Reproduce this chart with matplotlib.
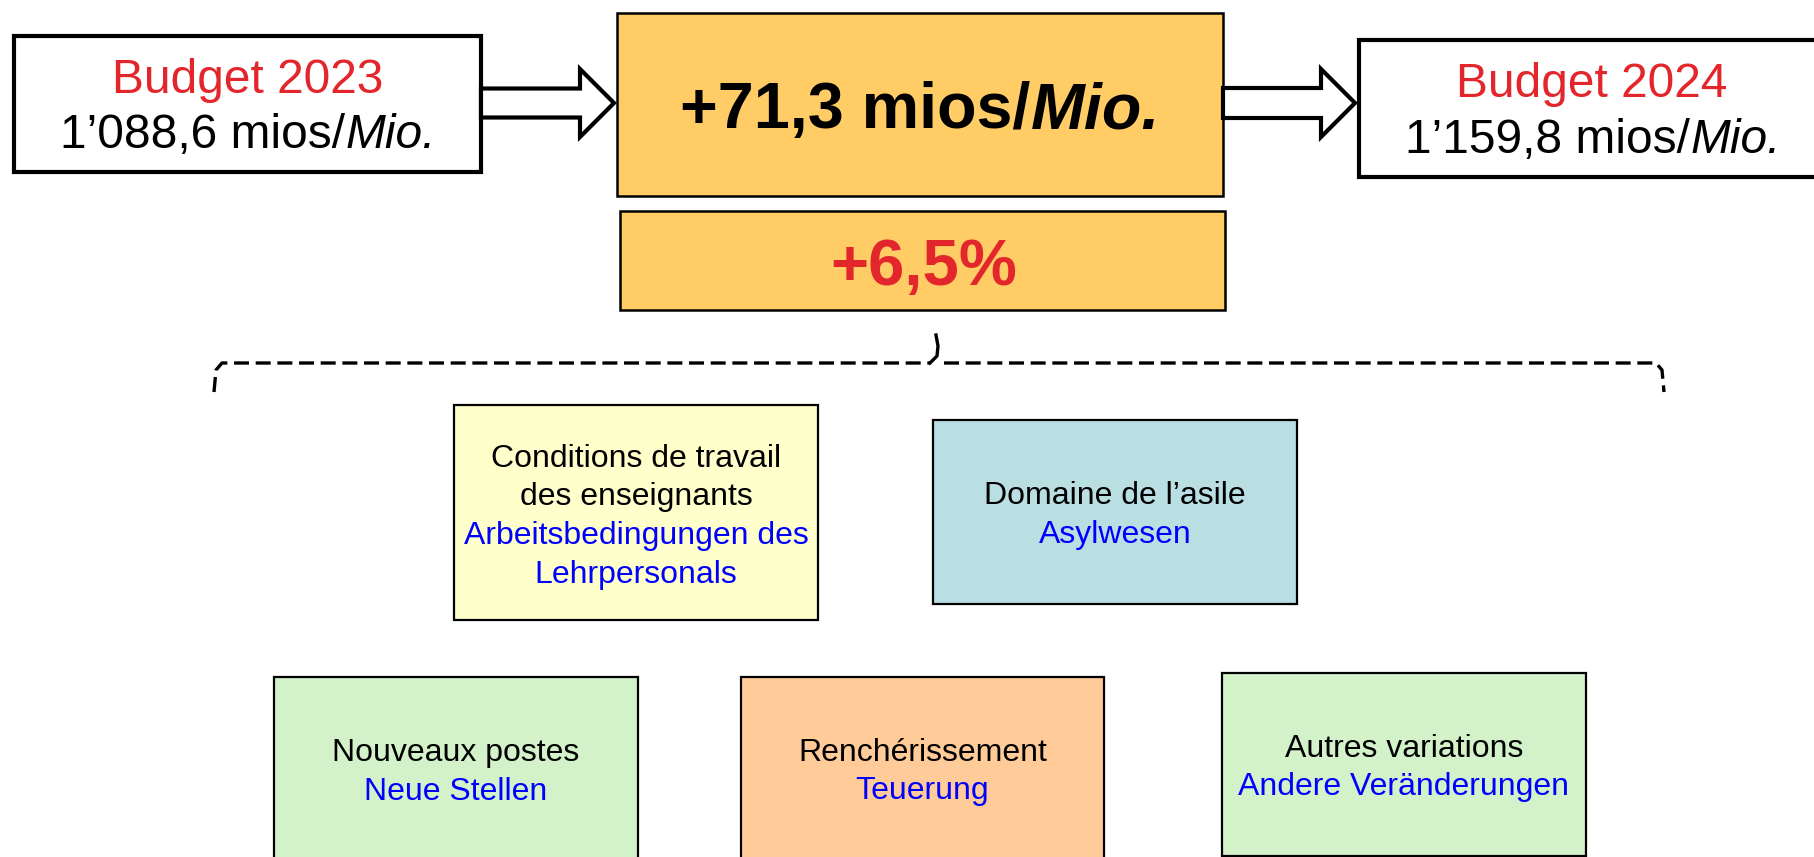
import matplotlib
matplotlib.use("Agg")
import matplotlib.pyplot as plt
from matplotlib.patches import Rectangle, Polygon
from matplotlib.lines import Line2D

# ---- content ----
budget_prev_title = "Budget 2023"
budget_prev_value = [("1\u2019088,6 mios/", "normal"), ("Mio.", "italic")]
budget_next_title = "Budget 2024"
budget_next_value = [("1\u2019159,8 mios/", "normal"), ("Mio.", "italic")]
delta_value = [("+71,3 mios/", "normal"), ("Mio.", "italic")]
delta_pct = "+6,5%"

item_fr = ["Conditions de travail\ndes enseignants", "Domaine de l\u2019asile",
           "Nouveaux postes", "Rench\u00e9rissement", "Autres variations"]
item_de = ["Arbeitsbedingungen des\nLehrpersonals", "Asylwesen",
           "Neue Stellen", "Teuerung", "Andere Ver\u00e4nderungen"]

# ---- layout (pixel space) ----
item_boxes = [(454, 405, 818, 620), (933, 420, 1297, 604),
              (274, 677, 638, 900), (741, 677, 1104, 900), (1222, 673, 1586, 856)]
item_fr_base = [467, 504, 761, 761, 757]
item_colors = ["#FFFFCC", "#B9DFE3", "#D4F2C9", "#FFCC99", "#D4F2C9"]

RED = "#E3262C"
BLUE = "#0000FF"
ORANGE = "#FFCC66"
FONT = "Liberation Sans"

W, H = 1814, 857
fig = plt.figure(figsize=(W / 100, H / 100), dpi=100)
ax = fig.add_axes([0, 0, 1, 1])
ax.set_xlim(0, W)
ax.set_ylim(H, 0)
ax.axis("off")
renderer = fig.canvas.get_renderer()


def box(x0, y0, x1, y1, fc, lw):
    ax.add_patch(Rectangle((x0, y0), x1 - x0, y1 - y0, facecolor=fc,
                           edgecolor="black", linewidth=lw, zorder=2))


def mixed(xc, ybase, parts, size, color="black", weight="normal"):
    texts = []
    widths = []
    for s, style in parts:
        t = ax.text(0, ybase, s, fontsize=size, family=FONT, style=style,
                    weight=weight, color=color, va="baseline", ha="left", zorder=5)
        bb = t.get_window_extent(renderer=renderer)
        texts.append(t)
        widths.append(bb.width)
    total = sum(widths)
    x = xc - total / 2
    for t, w in zip(texts, widths):
        t.set_x(x)
        x += w


def arrow(x0, xh, xt, yc, sh, hh):
    pts = [(x0, yc - sh), (xh, yc - sh), (xh, yc - hh), (xt, yc),
           (xh, yc + hh), (xh, yc + sh), (x0, yc + sh)]
    ax.add_patch(Polygon(pts, closed=True, facecolor="white", edgecolor="black",
                         linewidth=3.0, joinstyle="miter", zorder=3))


# top row
box(14, 36, 481, 172, "white", 3.0)
box(1359, 40, 1830, 177, "white", 3.0)
box(617, 13, 1223, 196, ORANGE, 1.8)
box(620, 211, 1225, 310, ORANGE, 1.8)
arrow(481, 580, 614, 103, 14.5, 34)
arrow(1223, 1321, 1355, 103, 15, 34)

ax.text(248, 93, budget_prev_title, fontsize=34.5, family=FONT, color=RED,
        ha="center", va="baseline", zorder=5)
mixed(248, 148, budget_prev_value, 34.5)
ax.text(1592, 97, budget_next_title, fontsize=34.5, family=FONT, color=RED,
        ha="center", va="baseline", zorder=5)
mixed(1593, 153, budget_next_value, 34.5)
mixed(920, 128, delta_value, 46.5, weight="bold")
ax.text(924, 285, delta_pct, fontsize=47, family=FONT, color=RED, weight="bold",
        ha="center", va="baseline", zorder=5)

# dashed bracket
dash = dict(color="black", linewidth=2.4, linestyle=(0, (4.5, 2.0)), zorder=4)
ax.add_line(Line2D([214, 216, 222, 930], [392, 370, 363, 363], **dash))
ax.add_line(Line2D([944, 1656, 1662, 1664], [363, 363, 370, 392], **dash))
ax.add_line(Line2D([930, 937, 938, 936], [363, 356, 346, 335],
                   color="black", linewidth=2.4, zorder=4))

# item boxes
LS = 38.5
for (x0, y0, x1, y1), fc, fr, de, yb in zip(item_boxes, item_colors, item_fr,
                                             item_de, item_fr_base):
    box(x0, y0, x1, y1, fc, 1.6)
    xc = (x0 + x1) / 2
    lines = [(l, "black") for l in fr.split("\n")] + [(l, BLUE) for l in de.split("\n")]
    for i, (l, c) in enumerate(lines):
        ax.text(xc, yb + i * LS, l, fontsize=23, family=FONT, color=c,
                ha="center", va="baseline", zorder=5)

fig.savefig("out.png", dpi=100, facecolor="white")
